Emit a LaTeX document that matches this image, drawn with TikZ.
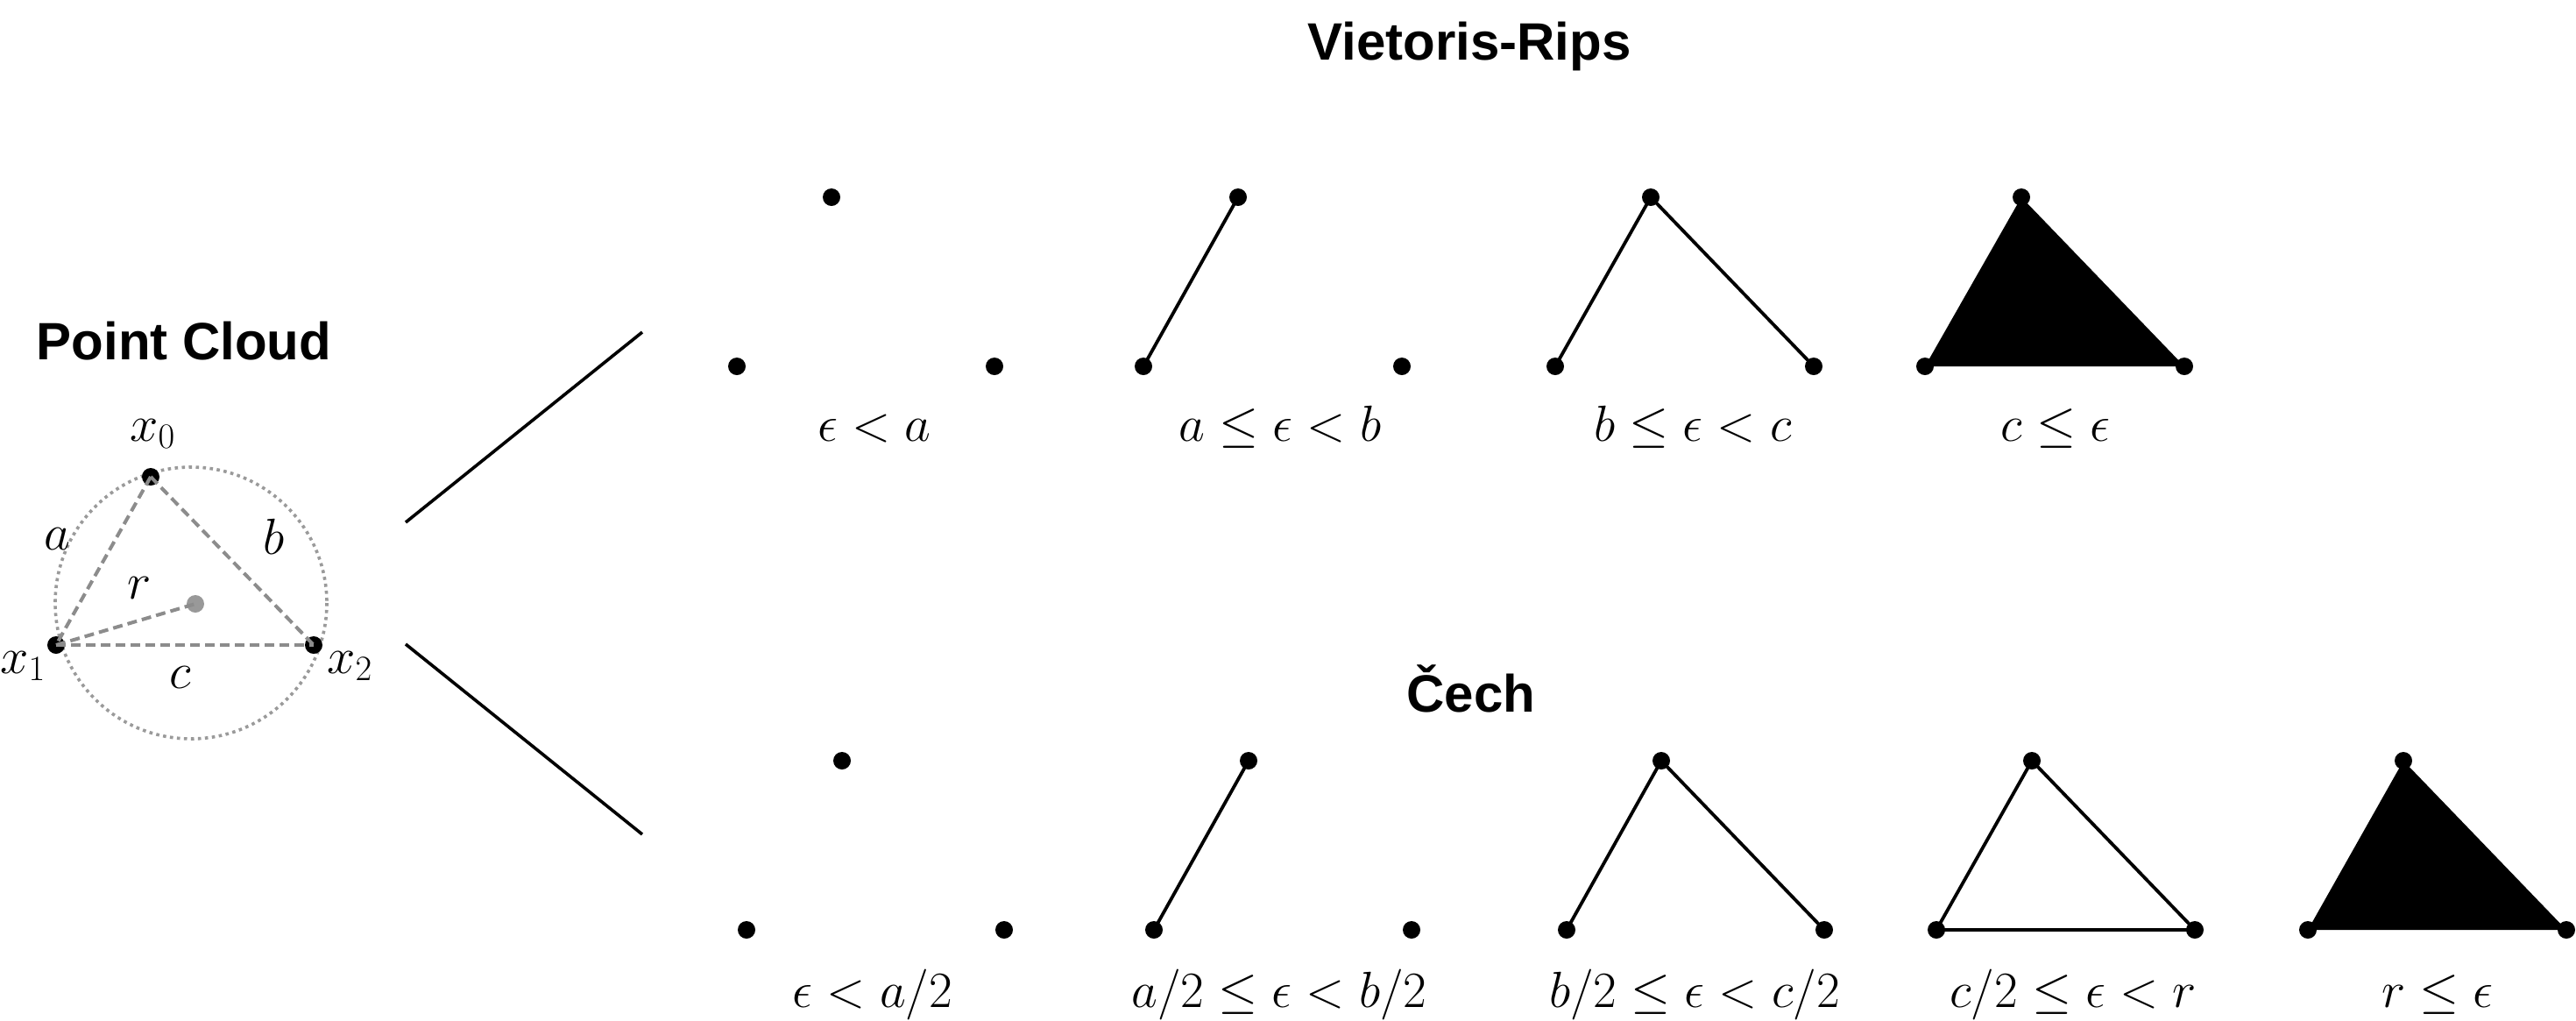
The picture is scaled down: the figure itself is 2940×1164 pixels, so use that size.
\RequirePackage{fix-cm}
\documentclass[tikz,border=0pt]{standalone}
\usepackage{fontspec}
\setsansfont{Liberation Sans}
\definecolor{pcgray}{HTML}{8C8C8C}
\definecolor{circgray}{HTML}{9A9A9A}
\definecolor{ctrgray}{HTML}{999999}
\begin{document}
\begin{tikzpicture}[x=0.5pt,y=-0.5pt,
  dot/.style={circle,fill=black,inner sep=0pt,minimum size=10pt},
  graydot/.style={circle,fill=ctrgray,inner sep=0pt,minimum size=10pt},
  simplexedge/.style={line width=1.9pt,black,line join=round},
  link/.style={line width=1.8pt,black},
  pcedge/.style={line width=2pt,color=pcgray,dash pattern=on 5.5pt off 3pt},
  circ/.style={line width=1.8pt,color=circgray,dash pattern=on 1.8pt off 2.2pt},
  title/.style={font=\fontsize{30pt}{36pt}\selectfont\sffamily\bfseries,inner sep=0pt,anchor=base},
  lab/.style={font=\fontsize{29pt}{34pt}\selectfont,inner sep=0pt,anchor=base},
]
\fill[white] (0,0) rectangle (2940,1164);
\useasboundingbox (0,0) rectangle (2940,1164);

% ---------- Point cloud ----------
\node[title] (pctitle) at (210,410) {Point Cloud};
\draw[circ] (218,688) circle[radius=155];
\node[dot] (x0) at (172,544) {};
\node[dot] (x1) at (64,736) {};
\node[dot] (x2) at (358,736) {};
\node[graydot] (ctr) at (223,689) {};
\draw[pcedge] (x0.center) -- (x1.center);
\draw[pcedge] (x0.center) -- (x2.center);
\draw[pcedge] (x1.center) -- (x2.center);
\draw[pcedge] (x1.center) -- (ctr.center);
\node[lab,anchor=base west] (lx0) at (148,503) {$x_0$};
\node[lab,anchor=base west] (lx1) at (0,768) {$x_1$};
\node[lab,anchor=base west] (lx2) at (373,768) {$x_2$};
\node[lab,anchor=base west] (la) at (50,627) {$a$};
\node[lab,anchor=base west] (lb) at (300,632) {$b$};
\node[lab,anchor=base west] (lr) at (145,683) {$r$};
\node[lab,anchor=base west] (lc) at (193,785) {$c$};

% ---------- connectors ----------
\coordinate (u1) at (463,596);
\coordinate (u2) at (733,379);
\coordinate (d1) at (463,735);
\coordinate (d2) at (733,952);
\draw[link] (u1) -- (u2);
\draw[link] (d1) -- (d2);

% ---------- Vietoris-Rips ----------
\node[title] (vrtitle) at (1677,68) {Vietoris-Rips};
\foreach \i/\l/\t/\r in {1/841/949/1135, 2/1305/1413/1600, 3/1775/1884/2070, 4/2197/2307/2493}{
  \node[dot] (v\i t) at (\t,225) {};
  \node[dot] (v\i l) at (\l,418) {};
  \node[dot] (v\i r) at (\r,418) {};
}
\draw[simplexedge] (v2t.center) -- (v2l.center);
\draw[simplexedge] (v3l.center) -- (v3t.center) -- (v3r.center);
\fill[black] (v4t.center) -- (v4l.center) -- (v4r.center) -- cycle;
\node[lab] (vl1) at (998,503) {$\epsilon < a$};
\node[lab] (vl2) at (1461,503) {$a \leq \epsilon < b$};
\node[lab] (vl3) at (1932,503) {$b \leq \epsilon < c$};
\node[lab] (vl4) at (2346,503) {$c \leq \epsilon$};

% ---------- Cech ----------
\node[title] (cetitle) at (1679,812) {Čech};
\foreach \i/\l/\t/\r in {1/852/961/1146, 2/1317/1425/1611, 3/1788/1896/2082, 4/2210/2319/2505, 5/2634/2743/2929}{
  \node[dot] (c\i t) at (\t,868) {};
  \node[dot] (c\i l) at (\l,1061) {};
  \node[dot] (c\i r) at (\r,1061) {};
}
\draw[simplexedge] (c2t.center) -- (c2l.center);
\draw[simplexedge] (c3l.center) -- (c3t.center) -- (c3r.center);
\draw[simplexedge] (c4l.center) -- (c4t.center) -- (c4r.center) -- cycle;
\fill[black] (c5t.center) -- (c5l.center) -- (c5r.center) -- cycle;
\node[lab] (cl1) at (996,1149) {$\epsilon < a/2$};
\node[lab] (cl2) at (1460,1149) {$a/2 \leq \epsilon < b/2$};
\node[lab] (cl3) at (1934,1149) {$b/2 \leq \epsilon < c/2$};
\node[lab] (cl4) at (2366,1149) {$c/2 \leq \epsilon < r$};
\node[lab] (cl5) at (2782,1149) {$r \leq \epsilon$};
\end{tikzpicture}
\end{document}
